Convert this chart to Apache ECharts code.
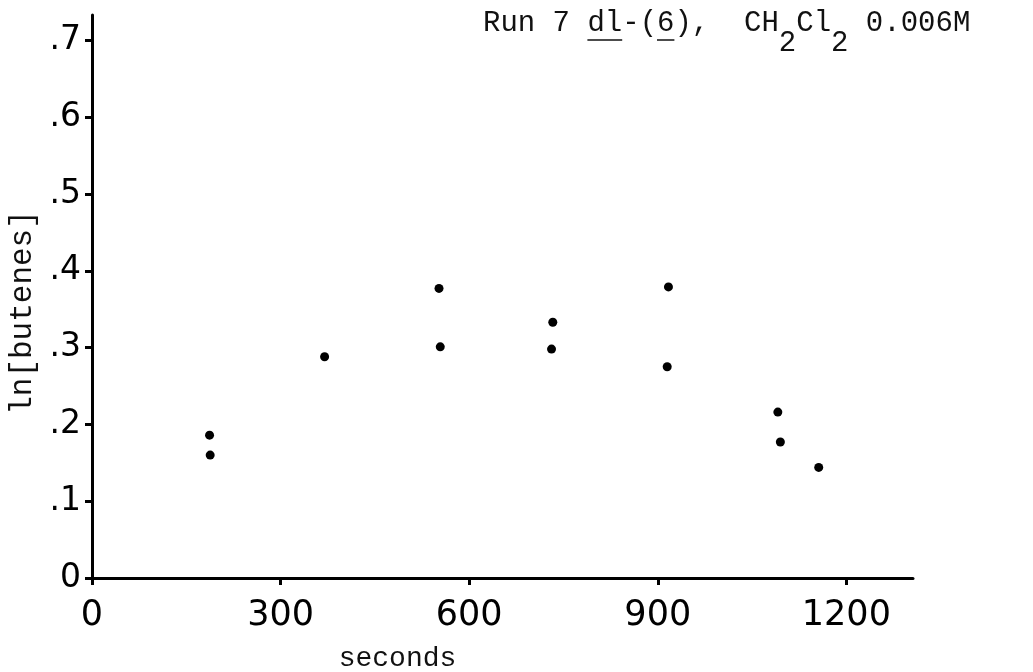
<!DOCTYPE html>
<html><head><meta charset="utf-8">
<script src="https://cdn.jsdelivr.net/npm/echarts@6/dist/echarts.min.js"></script>
<style>html,body{margin:0;padding:0;background:#fff}#c{width:1033px;height:672px}</style>
</head><body><div id="c"></div>
<script>
// ---- data ----
const times = [187, 188, 370, 552, 554, 733, 731, 917, 915, 1091, 1095, 1156];
const lnButenes = [0.186, 0.160, 0.288, 0.377, 0.301, 0.333, 0.298, 0.379, 0.275, 0.216, 0.177, 0.144];
const xTicks = [0, 300, 600, 900, 1200];
const yTicks = [0, 0.1, 0.2, 0.3, 0.4, 0.5, 0.6, 0.7];
const yTickLabels = ['0', '.1', '.2', '.3', '.4', '.5', '.6', '.7'];
const xAxisTitle = 'seconds';
const yAxisTitle = 'ln[butenes]';
const titleParts = ['Run 7 ', 'dl', '-(', '6', '),  CH', '2', 'Cl', '2', ' 0.006M'];

const mono = '"Liberation Mono", monospace';
const hand = '"DejaVu Sans", sans-serif';
const tSize = 29, cw = 0.6 * tSize, tx = 483, ty = 9;

const chart = echarts.init(document.getElementById('c'), null, {renderer: 'canvas'});
const ink = '#000';
const option = {
  animation: false,
  backgroundColor: '#fff',
  title: {
    text: '{n|' + titleParts[0] + '}{n|' + titleParts[1] + '}{n|' + titleParts[2] + '}{n|' + titleParts[3] + '}{n|' + titleParts[4] + '}{s|' + titleParts[5] + '}{n|' + titleParts[6] + '}{s|' + titleParts[7] + '}{n|' + titleParts[8] + '}',
    left: tx, top: ty, padding: 0,
    textStyle: {
      fontWeight: 'normal',
      rich: {
        n: {fontFamily: mono, fontWeight: 'normal', fontSize: tSize, lineHeight: tSize, color: '#111', verticalAlign: 'top'},
        s: {fontFamily: mono, fontWeight: 'normal', fontSize: tSize, lineHeight: tSize, color: '#111', verticalAlign: 'top', padding: [20, 0, 0, 0]}
      }
    }
  },
  graphic: [
    {type: 'line', shape: {x1: tx + 6 * cw, y1: 40, x2: tx + 8 * cw, y2: 40}, style: {stroke: '#111', lineWidth: 1.5}},
    {type: 'line', shape: {x1: tx + 10 * cw, y1: 40, x2: tx + 11 * cw, y2: 40}, style: {stroke: '#111', lineWidth: 1.5}}
  ],
  grid: {left: 92, right: 120, top: 15, bottom: 94, containLabel: false, outerBoundsMode: 'none'},
  xAxis: {
    type: 'value', min: 0, max: 1306,
    name: xAxisTitle, nameLocation: 'middle', nameGap: 67,
    nameTextStyle: {fontFamily: mono, fontSize: 28, color: '#111', padding: [0, 210, 0, 0]},
    axisLine: {show: true, onZero: false, lineStyle: {color: ink, width: 3}},
    axisTick: {show: true, customValues: xTicks, length: 7, lineStyle: {color: ink, width: 3}},
    axisLabel: {customValues: xTicks, margin: 20, fontFamily: hand, fontSize: 35, color: ink, formatter: v => String(v)},
    splitLine: {show: false}
  },
  yAxis: {
    type: 'value', min: 0, max: 0.733,
    name: yAxisTitle, nameLocation: 'middle', nameGap: 50, nameRotate: 90,
    nameTextStyle: {fontFamily: mono, fontSize: 31, color: '#111', padding: [0, 32, 0, 0]},
    axisLine: {show: true, onZero: false, lineStyle: {color: ink, width: 3}},
    axisTick: {show: true, customValues: yTicks, length: 7, lineStyle: {color: ink, width: 3}},
    axisLabel: {
      customValues: yTicks, margin: 11, fontFamily: hand, fontSize: 33, color: ink,
      formatter: v => { const i = yTicks.findIndex(t => Math.abs(t - v) < 1e-9); return i >= 0 ? yTickLabels[i] : ''; }
    },
    splitLine: {show: false}
  },
  series: [{
    type: 'scatter',
    data: times.map((t, i) => [t, lnButenes[i]]),
    symbol: 'circle', symbolSize: 9,
    itemStyle: {color: ink, opacity: 1}
  }]
};
chart.setOption(option);
</script>
</body></html>
